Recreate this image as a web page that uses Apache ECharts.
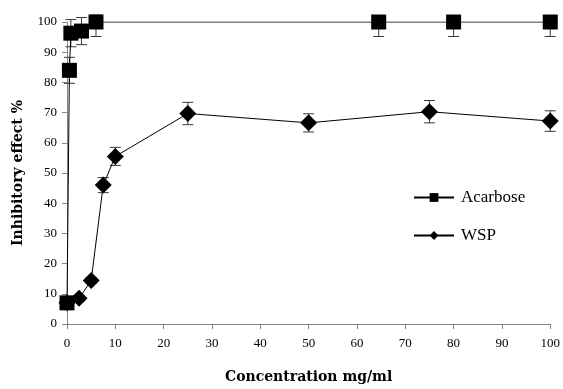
<!DOCTYPE html>
<html>
<head>
<meta charset="utf-8">
<script src="https://cdn.jsdelivr.net/npm/echarts@6/dist/echarts.min.js"></script>
<style>
  html, body { margin: 0; padding: 0; background: #fff; }
  #main { width: 563px; height: 389px; }
</style>
</head>
<body>
<div id="main"></div>
<script>
// Acarbose
var acarX = [0, 0.5, 0.8, 3, 6, 64.5, 80, 100];
var acarY = [7, 84, 96.3, 97, 100, 100, 100, 100];
var acarErrLow = [1, 4.3, 4.5, 4.5, 4.8, 4.8, 4.8, 4.8];
var acarErrHigh = [1, 4.3, 4.5, 4.5, 2.3, 0, 0, 0];
// WSP
var wspX = [0, 2.5, 5, 7.5, 10, 25, 50, 75, 100];
var wspY = [7, 8.5, 14.4, 46, 55.5, 69.7, 66.6, 70.3, 67.2];
var wspErr = [1, 1, 1, 2.5, 3, 3.7, 3, 3.7, 3.4];

var xTicks = [0, 10, 20, 30, 40, 50, 60, 70, 80, 90, 100];

function pairs(xs, ys) {
    var out = [];
    for (var i = 0; i < xs.length; i++) out.push([xs[i], ys[i]]);
    return out;
}
function errData(xs, ys, lo, hi) {
    var out = [];
    for (var i = 0; i < xs.length; i++) out.push([xs[i], ys[i] - lo[i], ys[i] + hi[i]]);
    return out;
}

//误差线
function renderErr(params, api) {
    var p1 = api.coord([api.value(0), api.value(1)]);
    var p2 = api.coord([api.value(0), api.value(2)]);
    var w = 5.5;
    var st = { stroke: '#3a3a3a', lineWidth: 1 };
    return {
        type: 'group',
        children: [
            { type: 'line', shape: { x1: p1[0], y1: p1[1], x2: p2[0], y2: p2[1] }, style: st },
            { type: 'line', shape: { x1: p1[0] - w, y1: p1[1], x2: p1[0] + w, y2: p1[1] }, style: st },
            { type: 'line', shape: { x1: p2[0] - w, y1: p2[1], x2: p2[0] + w, y2: p2[1] }, style: st }
        ]
    };
}

var serif = '"Liberation Serif", "Times New Roman", serif';
var myChart = echarts.init(document.getElementById('main'));
var option = {
    backgroundColor: '#fff',
    animation: false,
    grid: { left: 67, right: 12, top: 22, bottom: 63 },
    legend: {
        orient: 'vertical',
        left: 408,
        top: 184,
        itemWidth: 40,
        itemHeight: 11,
        itemGap: 21,
        textStyle: { fontFamily: serif, fontSize: 17, color: '#000', padding: [0, 0, 0, 2] },
        data: ['Acarbose', 'WSP']
    },
    xAxis: {
        type: 'value',
        min: 0,
        max: 100,
        interval: 10,
        name: 'Concentration mg/ml',
        nameLocation: 'middle',
        nameGap: 46,
        nameTextStyle: { fontFamily: '"DejaVu Serif", serif', fontWeight: 'bold', fontSize: 14, color: '#000' },
        axisLine: { lineStyle: { color: '#868686', width: 1 } },
        axisTick: { show: true, length: 5, lineStyle: { color: '#868686' } },
        axisLabel: {
            fontFamily: serif, fontSize: 13, color: '#000', margin: 13,
            customValues: xTicks
        },
        splitLine: { show: false }
    },
    yAxis: {
        type: 'value',
        min: 0,
        max: 100,
        interval: 10,
        name: 'Inhibitory effect %',
        nameLocation: 'middle',
        nameGap: 42,
        nameTextStyle: { fontFamily: '"DejaVu Serif", serif', fontWeight: 'bold', fontSize: 14, color: '#000' },
        axisLine: { show: true, lineStyle: { color: '#868686', width: 1 } },
        axisTick: { show: true, length: 5, lineStyle: { color: '#868686' } },
        axisLabel: { fontFamily: serif, fontSize: 13, color: '#000', margin: 10 },
        splitLine: { show: false }
    },
    series: [
        {
            type: 'custom',
            name: 'errAcar',
            renderItem: renderErr,
            clip: false,
            z: 1,
            encode: { x: 0, y: [1, 2] },
            data: errData(acarX, acarY, acarErrLow, acarErrHigh)
        },
        {
            type: 'custom',
            name: 'errWsp',
            renderItem: renderErr,
            clip: false,
            z: 1,
            encode: { x: 0, y: [1, 2] },
            data: errData(wspX, wspY, wspErr, wspErr)
        },
        {
            name: 'Acarbose',
            type: 'line',
            z: 3,
            symbol: 'rect',
            symbolSize: 15,
            showAllSymbol: true,
            itemStyle: { color: '#000' },
            lineStyle: { color: '#000', width: 1 },
            data: pairs(acarX, acarY)
        },
        {
            name: 'WSP',
            type: 'line',
            z: 3,
            symbol: 'diamond',
            symbolSize: 17,
            showAllSymbol: true,
            itemStyle: { color: '#000' },
            lineStyle: { color: '#000', width: 1 },
            data: pairs(wspX, wspY)
        }
    ]
};
myChart.setOption(option);
</script>
</body>
</html>
